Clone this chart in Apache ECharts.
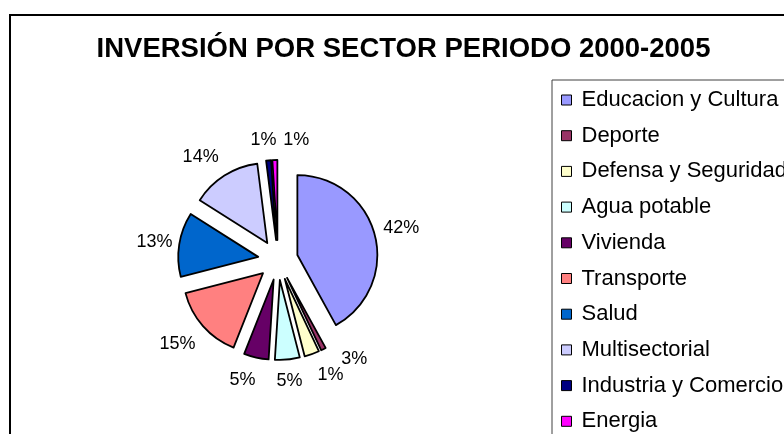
<!DOCTYPE html>
<html>
<head>
<meta charset="utf-8">
<script src="https://cdn.jsdelivr.net/npm/echarts@6/dist/echarts.min.js"></script>
<style>
  html, body { margin: 0; padding: 0; background: #fff; }
  #chart { width: 784px; height: 434px; }
</style>
</head>
<body>
<div id="chart"></div>
<script>
// ---- data ----
const titleText = 'INVERSIÓN POR SECTOR PERIODO 2000-2005';
const categories = ['Educacion y Cultura', 'Deporte', 'Defensa y Seguridad', 'Agua potable', 'Vivienda',
  'Transporte', 'Salud', 'Multisectorial', 'Industria y Comercio', 'Energia'];
const values = [42, 1, 3, 5, 5, 15, 13, 14, 1, 1];

// ---- layout / style ----
const FONT = "'Liberation Sans', Arial, sans-serif";
const CX = 278, CY = 260, RADIUS = 80, EXPLODE = 20, LABEL_R = 122;
const palette = ['#9999FF', '#993366', '#FFFFCC', '#CCFFFF', '#660066', '#FF8080', '#0066CC', '#CCCCFF', '#000080', '#FF00FF'];
// small label shifts (px) imitating the original's hand-placed labels
const labelNudge = [[5, -2], [-3, 6], [35, -16], [0, 0], [-9, 1], [-9, 3], [-3, 1], [-12, 0], [-3, 1], [22, 2]];

// label anchor angles: middle of each slice, in the same units as the values
const total = values.reduce((a, b) => a + b, 0);
const midAngles = [];
values.reduce((acc, v) => { midAngles.push(acc + v / 2); return acc + v; }, 0);

const chart = echarts.init(document.getElementById('chart'), null, { renderer: 'canvas' });
const option = {
  animation: false,
  backgroundColor: '#fff',
  color: palette,
  graphic: [{
    type: 'rect', z: -1, silent: true,
    shape: { x: 10, y: 15, width: 1000, height: 1000 },
    style: { fill: '#fff', stroke: '#000', lineWidth: 2 }
  }],
  title: {
    text: titleText,
    left: 403.5, top: 49.5, padding: 0,
    textAlign: 'center', textVerticalAlign: 'middle',
    textStyle: { fontFamily: FONT, fontWeight: 'bold', fontSize: 27.5, color: '#000' }
  },
  legend: {
    orient: 'vertical',
    left: 552, top: 80, height: 1000,
    padding: [9, 10, 9, 9],
    itemWidth: 10, itemHeight: 10, itemGap: 13.7,
    icon: 'rect',
    backgroundColor: '#fff',
    borderColor: '#404040', borderWidth: 1,
    itemStyle: { borderColor: '#000', borderWidth: 1 },
    textStyle: { fontFamily: FONT, fontSize: 22, color: '#000', lineHeight: 22, padding: [0, 0, 0, 5] },
    data: categories
  },
  polar: { center: [CX, CY], radius: LABEL_R },
  angleAxis: { type: 'value', min: 0, max: total, startAngle: 90, clockwise: true, show: false },
  radiusAxis: { type: 'value', min: 0, max: 1, show: false },
  series: [{
    type: 'pie',
    center: [CX, CY],
    radius: RADIUS,
    startAngle: 90,
    clockwise: true,
    selectedMode: 'multiple',
    selectedOffset: EXPLODE,
    itemStyle: { borderColor: '#000', borderWidth: 1.8 },
    select: { itemStyle: { borderColor: '#000', borderWidth: 1.8 } },
    emphasis: { disabled: true },
    label: { show: false },
    labelLine: { show: false },
    data: categories.map((name, i) => ({ name: name, value: values[i], selected: true }))
  }, {
    // invisible points on a polar ring that carry the percentage labels
    type: 'scatter',
    coordinateSystem: 'polar',
    silent: true,
    symbol: 'circle',
    symbolSize: 1,
    itemStyle: { color: 'rgba(0,0,0,0)', opacity: 1 },
    emphasis: { disabled: true },
    label: {
      show: true, position: 'inside', opacity: 1,
      formatter: p => values[p.dataIndex] + '%',
      fontFamily: FONT, fontSize: 18, color: '#000', textBorderWidth: 0
    },
    data: midAngles.map((a, i) => ({ value: [1, a], label: { offset: labelNudge[i] } }))
  }]
};
chart.setOption(option);
</script>
</body>
</html>
